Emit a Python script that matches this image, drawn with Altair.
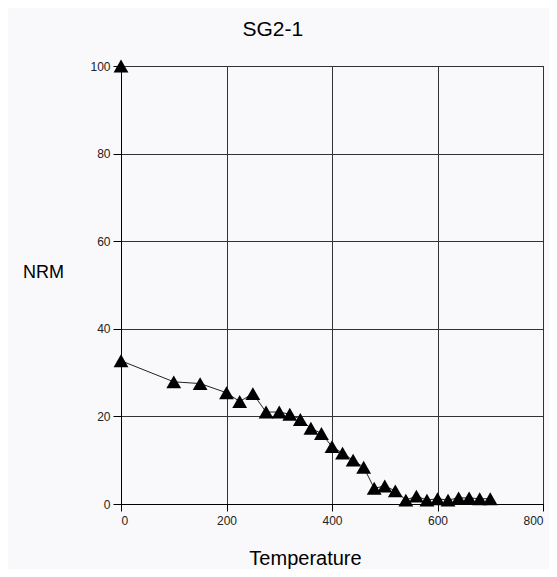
import altair as alt
import pandas as pd

temps = [0, 100, 150, 200, 225, 250, 275, 300, 320, 340, 360, 380, 400, 420,
         440, 460, 480, 500, 520, 540, 560, 580, 600, 620, 640, 660, 680, 700]
nrm = [32.7, 27.9, 27.5, 25.4, 23.4, 25.2, 21.0, 21.0, 20.5, 19.3, 17.3, 16.1,
       13.1, 11.6, 10.0, 8.4, 3.6, 4.1, 3.0, 0.9, 1.8, 0.9, 1.2, 0.9, 1.4, 1.4,
       1.2, 1.2]
norm_temp = [0]
norm_nrm = [100]

df = pd.DataFrame({"Temperature": temps, "NRM": nrm})
df0 = pd.DataFrame({"Temperature": norm_temp, "NRM": norm_nrm})

x = alt.X("Temperature:Q", scale=alt.Scale(domain=[0, 800], nice=False),
          axis=alt.Axis(values=[0, 200, 400, 600, 800], title="Temperature",
                        titleFontSize=20, titleFontWeight="normal",
                        titleX=184, titleY=60, titleBaseline="alphabetic",
                        labelFontSize=12, labelPadding=4, tickSize=7))
y = alt.Y("NRM:Q", scale=alt.Scale(domain=[0, 100], nice=False),
          axis=alt.Axis(values=[0, 20, 40, 60, 80, 100], title="NRM",
                        titleAngle=0, titleFontSize=18, titleFontWeight="normal",
                        titleAlign="center", titleBaseline="middle",
                        titleX=-78, titleY=206,
                        labelFontSize=12, labelPadding=3, tickSize=8))

line = alt.Chart(df).mark_line(color="#222", strokeWidth=1).encode(x=x, y=y)
pts = alt.Chart(df).mark_point(shape="triangle-up", filled=True, color="black",
                               size=220, opacity=1).encode(x=x, y=y)
pt0 = alt.Chart(df0).mark_point(shape="triangle-up", filled=True, color="black",
                                size=220, opacity=1).encode(x=x, y=y)

chart = (line + pts + pt0).properties(
    width=422, height=438,
    title=alt.TitleParams("SG2-1", fontSize=21, fontWeight="normal",
                          anchor="start", dx=220, offset=20, color="black"),
    autosize=alt.AutoSizeParams(type="none"),
    padding={"left": 113, "top": 58, "right": 6, "bottom": 65},
    background="#f9f9fb",
).configure_view(stroke="black", strokeWidth=1).configure_axis(
    gridColor="#333", gridWidth=1, gridOpacity=1, domainColor="black",
    tickColor="black", labelColor="#222", titleColor="black",
    labelFont="Liberation Sans", titleFont="Liberation Sans"
).configure_title(font="Liberation Sans")

chart.save("out.html", embed_options={"renderer": "svg", "actions": False})
